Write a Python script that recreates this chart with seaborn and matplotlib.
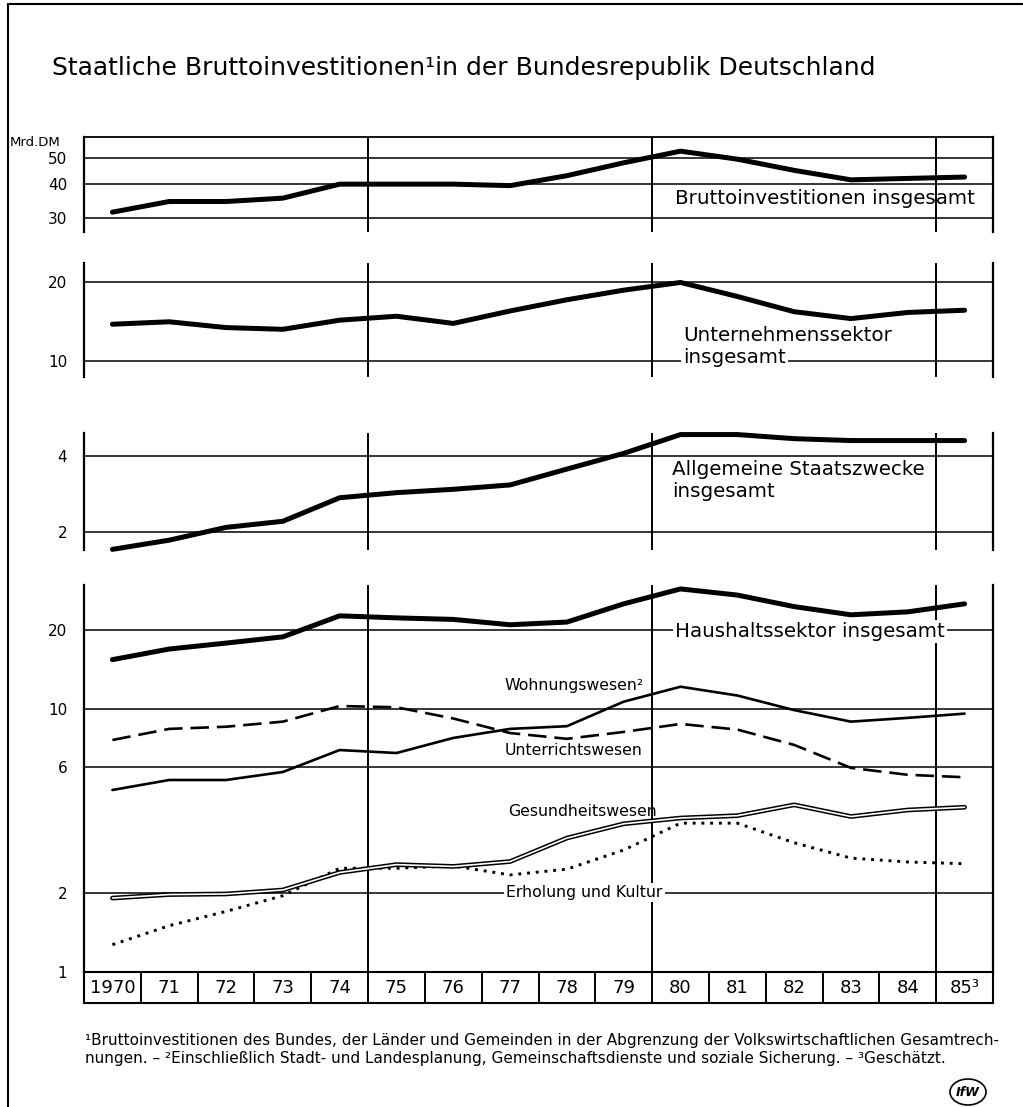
import matplotlib
matplotlib.use("Agg")
import matplotlib.pyplot as plt
import seaborn as sns
import pandas as pd
from matplotlib.lines import Line2D
from matplotlib.patches import Ellipse

# Werte (Mrd. DM)
years = list(range(1970, 1986))
year_labels = ["1970", "71", "72", "73", "74", "75", "76", "77", "78", "79",
               "80", "81", "82", "83", "84", "85³"]

brutto = [31.5, 34.5, 34.5, 35.5, 40, 40, 40, 39.5, 43, 48, 53, 49.5, 45, 41.5, 42, 42.5]
unternehmen = [13.8, 14.1, 13.4, 13.2, 14.3, 14.8, 13.9, 15.5, 17.1, 18.6, 19.9, 17.6, 15.4, 14.5, 15.3, 15.6]
staatszwecke = [1.71, 1.86, 2.09, 2.21, 2.74, 2.87, 2.96, 3.08, 3.56, 4.11, 4.88, 4.88, 4.7, 4.62, 4.62, 4.62]
haushalt = [15.4, 16.9, 17.8, 18.8, 22.6, 22.2, 21.9, 20.9, 21.4, 25.1, 28.6, 27.1, 24.5, 22.8, 23.4, 25.1]
wohnung = [4.92, 5.37, 5.37, 5.76, 6.98, 6.8, 7.76, 8.4, 8.6, 10.66, 12.15, 11.25, 9.9, 8.95, 9.25, 9.6]
unterricht = [7.62, 8.4, 8.56, 8.95, 10.26, 10.15, 9.2, 8.1, 7.7, 8.18, 8.77, 8.35, 7.3, 5.97, 5.62, 5.5]
gesundheit = [1.91, 1.97, 1.98, 2.05, 2.39, 2.56, 2.52, 2.63, 3.23, 3.66, 3.85, 3.93, 4.32, 3.9, 4.13, 4.23]
erholung = [1.27, 1.50, 1.70, 1.95, 2.48, 2.48, 2.53, 2.34, 2.46, 2.91, 3.68, 3.68, 3.1, 2.71, 2.62, 2.58]

ticks_p1 = [30, 40, 50]
ticks_p2 = [10, 20]
ticks_p3 = [2, 4]
ticks_p4 = [1, 2, 6, 10, 20]
vgrid = [1974.5, 1979.5, 1984.5]

df = pd.DataFrame({"jahr": years, "brutto": brutto, "unternehmen": unternehmen,
                   "staatszwecke": staatszwecke, "haushalt": haushalt,
                   "wohnung": wohnung, "unterricht": unterricht,
                   "gesundheit": gesundheit, "erholung": erholung})

sns.set_style("white")
plt.rcParams["font.family"] = ["DejaVu Sans"]
plt.rcParams["text.color"] = "black"
plt.rcParams["xtick.color"] = "black"
plt.rcParams["ytick.color"] = "black"
plt.rcParams["axes.edgecolor"] = "black"

W, H = 1023, 1107
fig = plt.figure(figsize=(W / 100, H / 100), dpi=100)


def box(top, bottom):
    # Pixel -> Figurkoordinaten
    return [84 / W, 1 - bottom / H, (993 - 84) / W, (bottom - top) / H]


def panel(rect, ylim, ticks, top_spine=False, bottom_spine=False):
    ax = fig.add_axes(rect)
    ax.set_yscale("log")
    ax.set_xlim(1969.5, 1985.5)
    ax.set_ylim(*ylim)
    ax.set_yticks(ticks)
    ax.set_yticklabels([str(t) for t in ticks])
    ax.minorticks_off()
    ax.set_xticks([])
    ax.tick_params(axis="y", length=0, pad=12, labelsize=11, labelcolor="black")
    for t in ticks:
        ax.axhline(t, color="black", lw=1.1, zorder=1)
    for v in vgrid:
        ax.axvline(v, color="black", lw=1.4, zorder=1)
    for s in ["left", "right"]:
        ax.spines[s].set_linewidth(1.6)
    ax.spines["top"].set_visible(top_spine)
    ax.spines["bottom"].set_visible(bottom_spine)
    ax.spines["top"].set_linewidth(1.3)
    ax.spines["bottom"].set_linewidth(1.3)
    return ax


ax1 = panel(box(137, 232), (26.6, 59.8), ticks_p1, top_spine=True)
ax2 = panel(box(263, 377), (8.69, 23.6), ticks_p2)
ax3 = panel(box(433, 550), (1.70, 4.95), ticks_p3)
ax4 = panel(box(585, 972), (1.0, 29.6), ticks_p4, bottom_spine=True)

thick = dict(color="black", lw=3.6, clip_on=False, zorder=5)
sns.lineplot(data=df, x="jahr", y="brutto", ax=ax1, **thick)
sns.lineplot(data=df, x="jahr", y="unternehmen", ax=ax2, **thick)
sns.lineplot(data=df, x="jahr", y="staatszwecke", ax=ax3, **thick)
sns.lineplot(data=df, x="jahr", y="haushalt", ax=ax4, **thick)
sns.lineplot(data=df, x="jahr", y="wohnung", ax=ax4, color="black", lw=1.9, zorder=5)
sns.lineplot(data=df, x="jahr", y="unterricht", ax=ax4, color="black", lw=1.9,
             linestyle=(0, (7, 3)), zorder=5)
sns.lineplot(data=df, x="jahr", y="gesundheit", ax=ax4, color="black", lw=3.4, zorder=5)
sns.lineplot(data=df, x="jahr", y="gesundheit", ax=ax4, color="white", lw=1.2, zorder=6)
sns.lineplot(data=df, x="jahr", y="erholung", ax=ax4, color="black", lw=2.1,
             linestyle=(0, (1, 2)), zorder=5)
for ax in [ax1, ax2, ax3, ax4]:
    ax.set_xlabel("")
    ax.set_ylabel("")
    ax.set_xlim(1969.5, 1985.5)

white = dict(fc="white", ec="none", pad=1.5)
big = 14.3
small = 11.3
ax1.text(1979.9, 35.3, "Bruttoinvestitionen insgesamt", fontsize=big, va="center", zorder=4)
ax2.text(1980.04, 12.45, "Unternehmenssektor", fontsize=big, va="center", zorder=4)
ax2.text(1980.04, 10.3, "insgesamt", fontsize=big, va="center", bbox=white, zorder=4)
ax3.text(1979.85, 3.2, "Allgemeine Staatszwecke\ninsgesamt", fontsize=big, va="center",
         linespacing=1.2, bbox=dict(fc="white", ec="none", pad=2.5), zorder=4)
ax4.text(1979.9, 19.7, "Haushaltssektor insgesamt", fontsize=big, va="center",
         bbox=white, zorder=4)
ax4.text(1976.9, 12.3, "Wohnungswesen²", fontsize=small, va="center", zorder=4)
ax4.text(1976.9, 6.98, "Unterrichtswesen", fontsize=small, va="center", bbox=white, zorder=4)
ax4.text(1976.96, 4.06, "Gesundheitswesen", fontsize=small, va="center", zorder=4)
ax4.text(1976.93, 2.0, "Erholung und Kultur", fontsize=small, va="center", bbox=white, zorder=4)

# Jahresleiste unter dem Diagramm
axy = fig.add_axes(box(972, 1003))
axy.set_xlim(1969.5, 1985.5)
axy.set_ylim(0, 1)
axy.set_yticks([])
axy.set_xticks(years)
axy.set_xticklabels(year_labels, fontsize=13)
axy.tick_params(axis="x", length=0, pad=-11, labelcolor="black")
for lab in axy.get_xticklabels():
    lab.set_va("center")
for y in years[:-1]:
    axy.axvline(y + 0.5, color="black", lw=1.4)
for s in axy.spines.values():
    s.set_linewidth(1.5)

fig.text(52 / W, 1 - 68 / H, "Staatliche Bruttoinvestitionen¹in der Bundesrepublik Deutschland",
         fontsize=18, va="center", ha="left")
fig.text(10 / W, 1 - 142 / H, "Mrd.DM", fontsize=9.5, va="center", ha="left")

fig.text(85 / W, 1 - 1040 / H,
         "¹Bruttoinvestitionen des Bundes, der Länder und Gemeinden in der Abgrenzung der "
         "Volkswirtschaftlichen Gesamtrech-", fontsize=11, va="center", ha="left")
fig.text(85 / W, 1 - 1059 / H,
         "nungen. – ²Einschließlich Stadt- und Landesplanung, Gemeinschaftsdienste und "
         "soziale Sicherung. – ³Geschätzt.", fontsize=11, va="center", ha="left")

# Rahmen links und oben
fig.add_artist(Line2D([8 / W, 8 / W], [0, 1 - 4 / H], color="black", lw=1.5))
fig.add_artist(Line2D([8 / W, 1], [1 - 4 / H, 1 - 4 / H], color="black", lw=1.5))

# IfW-Logo (vereinfacht)
fig.add_artist(Ellipse((968 / W, 1 - 1092 / H), 36 / W, 26 / H, fill=False, ec="black", lw=1.2))
fig.text(968 / W, 1 - 1092 / H, "IfW", fontsize=9, fontweight="bold", style="italic",
         ha="center", va="center")

fig.savefig("out.png", dpi=100)
